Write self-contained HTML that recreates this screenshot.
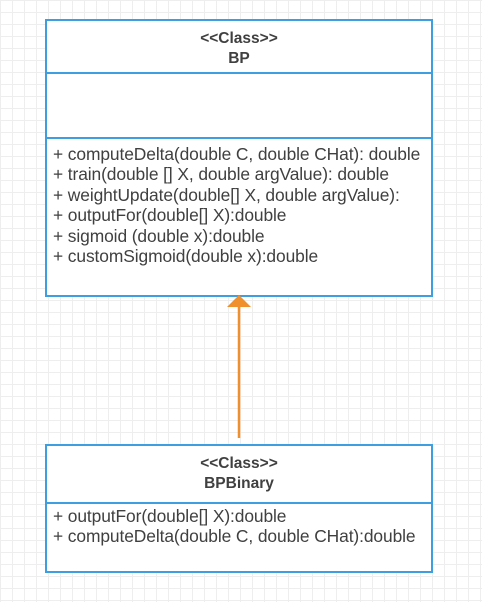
<!DOCTYPE html>
<html><head><style>
body{margin:0;width:482px;height:602px;overflow:hidden;background:#fff;
background-image:linear-gradient(#eee 1px,transparent 1px),linear-gradient(90deg,#eee 1px,transparent 1px);background-size:12px 12px;
font-family:"Liberation Sans",sans-serif;color:#404040;position:relative}
.box{position:absolute;left:45px;width:384px;border:2px solid #3d9fdf;background:#fff;box-sizing:content-box}
.sec{border-bottom:2px solid #3d9fdf;position:relative}
.hd{text-align:center;font-size:15.5px;line-height:20px;font-weight:bold}
.m{font-size:17.4px;line-height:20.4px;padding-left:6px;white-space:nowrap;letter-spacing:-0.1px}
</style></head><body>
<div class="box" style="top:19px;height:274px">
 <div class="sec hd" style="height:51px"><div style="padding-top:8px">&lt;&lt;Class&gt;&gt;<br>BP</div></div>
 <div class="sec" style="height:63px"></div>
 <div class="m" style="padding-top:5px">+ computeDelta(double C, double CHat): double<br>+ train(double [] X, double argValue): double<br>+ weightUpdate(double[] X, double argValue):<br>+ outputFor(double[] X):double<br>+ sigmoid (double x):double<br>+ customSigmoid(double x):double</div>
</div>
<svg style="position:absolute;left:0;top:0" width="482" height="602">
<line x1="239" y1="438" x2="239" y2="300" stroke="#f0902c" stroke-width="2.5"/>
<polygon points="239,295 227,307 251,307" fill="#f0902c"/>
</svg>
<div class="box" style="top:444px;height:125px">
 <div class="sec hd" style="height:56px"><div style="padding-top:8px">&lt;&lt;Class&gt;&gt;<br>BPBinary</div></div>
 <div class="m" style="padding-top:2px">+ outputFor(double[] X):double<br>+ computeDelta(double C, double CHat):double</div>
</div>
</body></html>
